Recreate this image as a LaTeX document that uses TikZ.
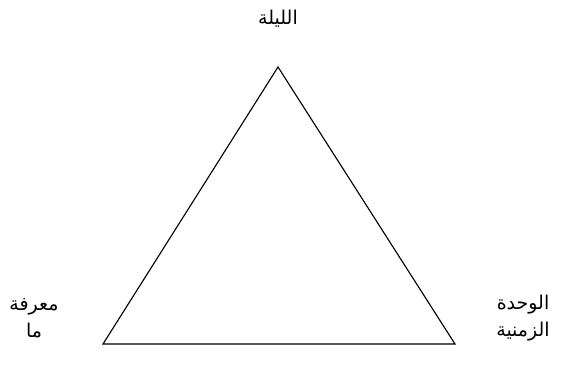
\documentclass[tikz,border=0pt]{standalone}
\usepackage{fontspec}
\newfontfamily\arabicfont[Script=Arabic]{DejaVu Sans}
\TeXXeTstate=1
\usetikzlibrary{positioning}
\tikzset{
  lbl/.style  = {font=\arabicfont\fontsize{13.5}{19}\selectfont, align=center, inner sep=0pt},
  side/.style = {line width=0.8pt, line join=miter},
}
\begin{document}
\begin{tikzpicture}[x=0.025cm,y=-0.025cm]
\useasboundingbox (0,0) rectangle (565,389);
\coordinate (top) at (278,67);
\coordinate (bl) at (103,344);
\coordinate (br) at (455,344);
\draw[side] (top) -- (bl) -- (br) -- cycle;
\node[lbl] (night) at (278,19) {\beginR الليلة\endR};
\node[lbl] (know) at (34,318) {\beginR معرفة\endR\\\beginR ما\endR};
\node[lbl] (unit) at (523,318) {\beginR الوحدة\endR\\\beginR الزمنية\endR};
\end{tikzpicture}
\end{document}
